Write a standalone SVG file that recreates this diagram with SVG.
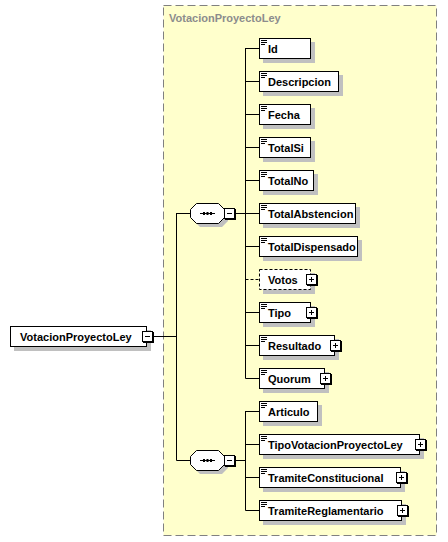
<svg xmlns="http://www.w3.org/2000/svg" width="448" height="542" viewBox="0 0 448 542">
<style>
text{font-family:"Liberation Sans",Arial,sans-serif;font-weight:bold;font-size:11px;fill:#000}
.title{fill:#8c8c8c}
.box{fill:#fff;stroke:#000;stroke-width:1}
.dbox{fill:#fff;stroke:#000;stroke-width:1;stroke-dasharray:3,2}
.shadow{fill:#c0c0c0}
.ln{stroke:#000;stroke-width:1;fill:none}
.dln{stroke:#000;stroke-width:1;fill:none;stroke-dasharray:3,2}
.exp{fill:#fff;stroke:#000;stroke-width:1}
.icon{stroke:#000;stroke-width:1}
</style>
<defs>
<g id="plus"><rect x="1" y="1" width="11" height="11" fill="#000"/><rect class="exp" x="0.5" y="0.5" width="10" height="10"/><path class="ln" d="M3 5.5H8M5.5 3V8"/></g>
<g id="minus"><rect x="1" y="1" width="11" height="11" fill="#000"/><rect class="exp" x="0.5" y="0.5" width="10" height="10"/><path class="ln" d="M3 5.5H8"/></g>
<g id="ico"><path class="icon" d="M261 40.5H267M261 42.5H267M261 44.5H265"/></g>
<g id="seq"><polygon class="shadow" points="200,207 222,207 228,213 228,221 222,227 200,227 194,221 194,213"/><polygon class="box" points="196.5,203.5 218.5,203.5 224.5,209.5 224.5,217.5 218.5,223.5 196.5,223.5 190.5,217.5 190.5,209.5"/><path class="ln" d="M200 213.5H215"/><rect x="203" y="212" width="2" height="3"/><rect x="206.5" y="212" width="2" height="3"/><rect x="210" y="212" width="2" height="3"/></g>
</defs>
<rect id="frame" x="163.5" y="5.5" width="273" height="530" fill="#ffffcc" stroke="#808080" stroke-width="1" stroke-dasharray="8,4"/>
<text class="title" x="169" y="22">VotacionProyectoLey</text>
<g id="connectors">
<path class="ln" d="M153 336.5H176.5M176.5 213V460.5M176.5 213.5H190M176.5 460.5H190"/>
<path class="ln" d="M236 213.5H245.5M245.5 48V378.5"/>
<path class="ln" d="M245.5 48.5H259M245.5 81.5H259M245.5 114.5H259M245.5 147.5H259M245.5 180.5H259M245.5 213.5H259M245.5 246.5H259M245.5 312.5H259M245.5 345.5H259M245.5 378.5H259"/>
<path class="dln" d="M245.5 279.5H259"/>
<path class="ln" d="M236 460.5H245.5M245.5 411V510.5M245.5 411.5H259M245.5 444.5H259M245.5 477.5H259M245.5 510.5H259"/>
</g>
<g id="root">
<rect class="shadow" x="14" y="330" width="137" height="21"/>
<rect class="box" x="10.5" y="326.5" width="136" height="20"/>
<text x="20" y="341">VotacionProyectoLey</text>
<use href="#minus" x="142" y="331"/>
</g>
<g id="seq1"><use href="#seq"/><use href="#minus" x="224" y="208"/></g>
<g id="seq2"><use href="#seq" y="247"/><use href="#minus" x="224" y="455"/></g>
<g id="Id"><rect class="shadow" x="263" y="42" width="52" height="21"/><rect class="box" x="259.5" y="38.5" width="51" height="20"/><use href="#ico"/><text x="268" y="53">Id</text></g>
<g id="Descripcion"><rect class="shadow" x="263" y="75" width="80" height="21"/><rect class="box" x="259.5" y="71.5" width="79" height="20"/><use href="#ico" y="33"/><text x="268" y="86">Descripcion</text></g>
<g id="Fecha"><rect class="shadow" x="263" y="108" width="52" height="21"/><rect class="box" x="259.5" y="104.5" width="51" height="20"/><use href="#ico" y="66"/><text x="268" y="119">Fecha</text></g>
<g id="TotalSi"><rect class="shadow" x="263" y="141" width="52" height="21"/><rect class="box" x="259.5" y="137.5" width="51" height="20"/><use href="#ico" y="99"/><text x="268" y="152">TotalSi</text></g>
<g id="TotalNo"><rect class="shadow" x="263" y="174" width="55" height="21"/><rect class="box" x="259.5" y="170.5" width="54" height="20"/><use href="#ico" y="132"/><text x="268" y="185">TotalNo</text></g>
<g id="TotalAbstencion"><rect class="shadow" x="263" y="207" width="97" height="21"/><rect class="box" x="259.5" y="203.5" width="96" height="20"/><use href="#ico" y="165"/><text x="268" y="218">TotalAbstencion</text></g>
<g id="TotalDispensado"><rect class="shadow" x="263" y="240" width="99" height="21"/><rect class="box" x="259.5" y="236.5" width="98" height="20"/><use href="#ico" y="198"/><text x="268" y="251">TotalDispensado</text></g>
<g id="Votos"><rect class="shadow" x="263" y="273" width="52" height="21"/><rect class="dbox" x="259.5" y="269.5" width="51" height="20"/><text x="268" y="284">Votos</text><use href="#plus" x="306" y="274"/></g>
<g id="Tipo"><rect class="shadow" x="263" y="306" width="52" height="21"/><rect class="box" x="259.5" y="302.5" width="51" height="20"/><use href="#ico" y="264"/><text x="268" y="317">Tipo</text><use href="#plus" x="306" y="307"/></g>
<g id="Resultado"><rect class="shadow" x="263" y="339" width="76" height="21"/><rect class="box" x="259.5" y="335.5" width="75" height="20"/><use href="#ico" y="297"/><text x="268" y="350">Resultado</text><use href="#plus" x="330" y="340"/></g>
<g id="Quorum"><rect class="shadow" x="263" y="372" width="66" height="21"/><rect class="box" x="259.5" y="368.5" width="65" height="20"/><use href="#ico" y="330"/><text x="268" y="383">Quorum</text><use href="#plus" x="320" y="373"/></g>
<g id="Articulo"><rect class="shadow" x="263" y="405" width="59" height="21"/><rect class="box" x="259.5" y="401.5" width="58" height="20"/><use href="#ico" y="363"/><text x="268" y="416">Articulo</text></g>
<g id="TipoVotacionProyectoLey"><rect class="shadow" x="263" y="438" width="161" height="21"/><rect class="box" x="259.5" y="434.5" width="160" height="20"/><use href="#ico" y="396"/><text x="268" y="449">TipoVotacionProyectoLey</text><use href="#plus" x="415" y="439"/></g>
<g id="TramiteConstitucional"><rect class="shadow" x="263" y="471" width="142" height="21"/><rect class="box" x="259.5" y="467.5" width="141" height="20"/><use href="#ico" y="429"/><text x="268" y="482">TramiteConstitucional</text><use href="#plus" x="396" y="472"/></g>
<g id="TramiteReglamentario"><rect class="shadow" x="263" y="504" width="143" height="21"/><rect class="box" x="259.5" y="500.5" width="142" height="20"/><use href="#ico" y="462"/><text x="268" y="515">TramiteReglamentario</text><use href="#plus" x="397" y="505"/></g>
</svg>
